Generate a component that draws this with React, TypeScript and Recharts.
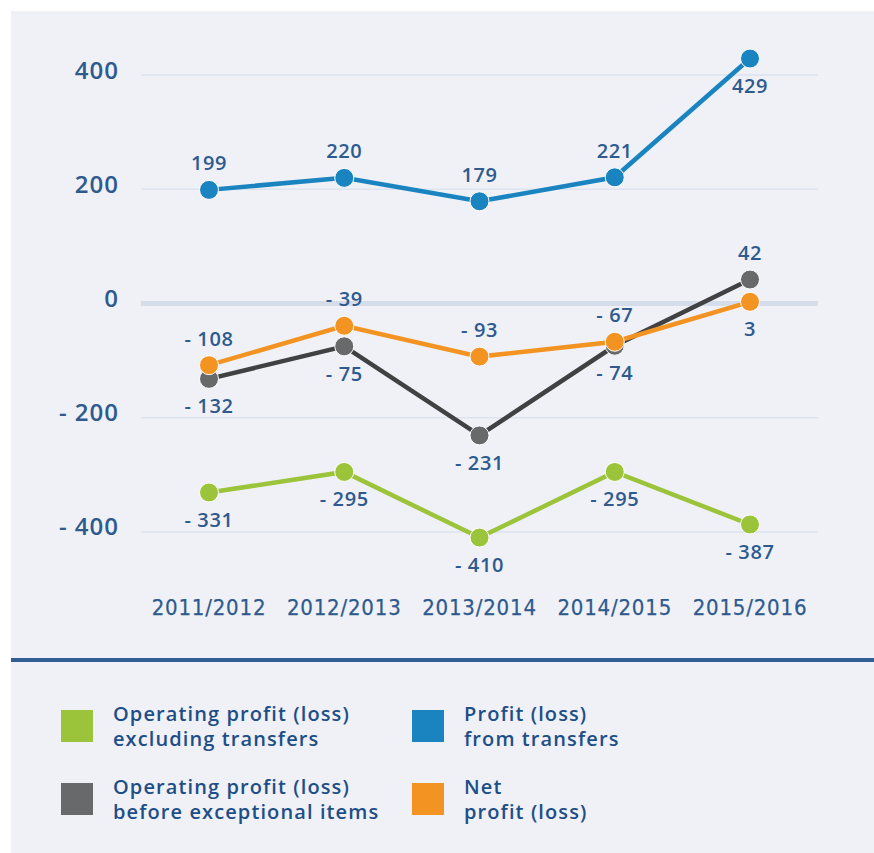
import React from "react";
import { LineChart, Line, XAxis, YAxis, ReferenceLine, LabelList } from "recharts";

const categories = ["2011/2012", "2012/2013", "2013/2014", "2014/2015", "2015/2016"];
const opExclTransfers = [-331, -295, -410, -295, -387];
const fromTransfers = [199, 220, 179, 221, 429];
const opBeforeExceptional = [-132, -75, -231, -74, 42];
const netProfit = [-108, -39, -93, -67, 3];
const yTicks = [-400, -200, 0, 200, 400];

const data = categories.map((year, i) => ({
    year,
    green: opExclTransfers[i],
    blue: fromTransfers[i],
    gray: opBeforeExceptional[i],
    orange: netProfit[i],
}));

const TEXT = "#2e5a8e";
const FONT = "'Open Sans', sans-serif";

const fmt = (v: number) => (v < 0 ? `- ${Math.abs(v)}` : `${v}`);

// which side of the dot each value label sits on
const series = [
    { key: "gray", line: "#404142", dot: "#68696b", sides: ["down", "down", "down", "down", "up"] },
    { key: "orange", line: "#f29322", dot: "#f29322", sides: ["up", "up", "up", "up", "down"] },
    { key: "blue", line: "#1a84c1", dot: "#1a84c1", sides: ["up", "up", "up", "up", "down"] },
    { key: "green", line: "#9bc43b", dot: "#9bc43b", sides: ["down", "down", "down", "down", "down"] },
];

const legend = [
    { color: "#9bc43b", lines: ["Operating profit (loss)", "excluding transfers"], left: 61, top: 710 },
    { color: "#1a84c1", lines: ["Profit (loss)", "from transfers"], left: 412, top: 710 },
    { color: "#68696b", lines: ["Operating profit (loss)", "before exceptional items"], left: 61, top: 783 },
    { color: "#f29322", lines: ["Net", "profit (loss)"], left: 412, top: 783 },
];

function YTick(props: any) {
    const { x, y, payload } = props;
    return (
        <text
            x={x}
            y={y - 6}
            textAnchor="end"
            dominantBaseline="central"
            fill={TEXT}
            fontSize={24}
            fontWeight={600}
            letterSpacing={1}
            fontFamily={FONT}
        >
            {fmt(payload.value)}
        </text>
    );
}

function XTick(props: any) {
    const { x, y, payload } = props;
    return (
        <text
            x={x}
            y={y}
            dy="0.71em"
            textAnchor="middle"
            fill={TEXT}
            stroke={TEXT}
            strokeWidth={0.25}
            fontSize={22}
            letterSpacing={0.8}
            fontFamily="'DejaVu Sans Condensed', 'Liberation Sans Narrow', sans-serif"
            fontStretch="condensed"
        >
            {payload.value}
        </text>
    );
}

function makeLabel(sides: string[]) {
    return (props: any) => {
        const { x, y, value, index } = props;
        const off = sides[index] === "up" ? -27 : 27;
        return (
            <text
                x={x}
                y={y + off}
                textAnchor="middle"
                dominantBaseline="central"
                fill={TEXT}
                fontSize={20}
                fontWeight={600}
                letterSpacing={0.6}
                fontFamily={FONT}
            >
                {fmt(value)}
            </text>
        );
    };
}

export default function App() {
    return (
        <div style={{ position: "absolute", left: 0, top: 0, width: 874, height: 853, background: "#fff", overflow: "hidden" }}>
            <div style={{ position: "absolute", left: 11, top: 11, right: 0, bottom: 0, background: "#eff1f7" }} />
            <div style={{ position: "absolute", left: 0, top: 0 }}>
                <LineChart width={874} height={640} data={data} margin={{ top: 18, right: 56, left: 0, bottom: 11 }}>
                    {yTicks
                        .filter((t) => t !== 0)
                        .map((t) => (
                            <ReferenceLine key={t} y={t} stroke="#dde3ef" strokeWidth={1.5} />
                        ))}
                    <ReferenceLine y={0} stroke="#d5dcea" strokeWidth={5} />
                    <XAxis
                        dataKey="year"
                        axisLine={false}
                        tickLine={false}
                        tickSize={0}
                        tickMargin={10}
                        height={40}
                        padding={{ left: 68, right: 68 }}
                        tick={<XTick />}
                        interval={0}
                    />
                    <YAxis
                        domain={[-500, 500]}
                        ticks={yTicks}
                        axisLine={false}
                        tickLine={false}
                        tickSize={0}
                        tickMargin={22}
                        width={141}
                        tick={<YTick />}
                    />
                    {series.map((s) => (
                        <Line
                            key={s.key}
                            dataKey={s.key}
                            type="linear"
                            stroke={s.line}
                            strokeWidth={4.5}
                            dot={{ r: 9.5, fill: s.dot, stroke: "#ffffff", strokeWidth: 1 }}
                            isAnimationActive={false}
                        >
                            <LabelList dataKey={s.key} content={makeLabel(s.sides)} />
                        </Line>
                    ))}
                </LineChart>
            </div>
            <div style={{ position: "absolute", left: 11, right: 0, top: 658, height: 4, background: "#325f93" }} />
            {legend.map((l) => (
                <div key={l.lines[0] + l.left} style={{ position: "absolute", left: l.left, top: l.top }}>
                    <div style={{ position: "absolute", left: 0, top: 0, width: 32, height: 32, background: l.color }} />
                    <div
                        style={{
                            position: "absolute",
                            left: 52,
                            top: -9,
                            whiteSpace: "nowrap",
                            fontFamily: FONT,
                            fontSize: 20,
                            fontWeight: 600,
                            letterSpacing: 1.1,
                            lineHeight: "25px",
                            color: "#1e4e86",
                        }}
                    >
                        {l.lines.map((t) => (
                            <div key={t}>{t}</div>
                        ))}
                    </div>
                </div>
            ))}
        </div>
    );
}
